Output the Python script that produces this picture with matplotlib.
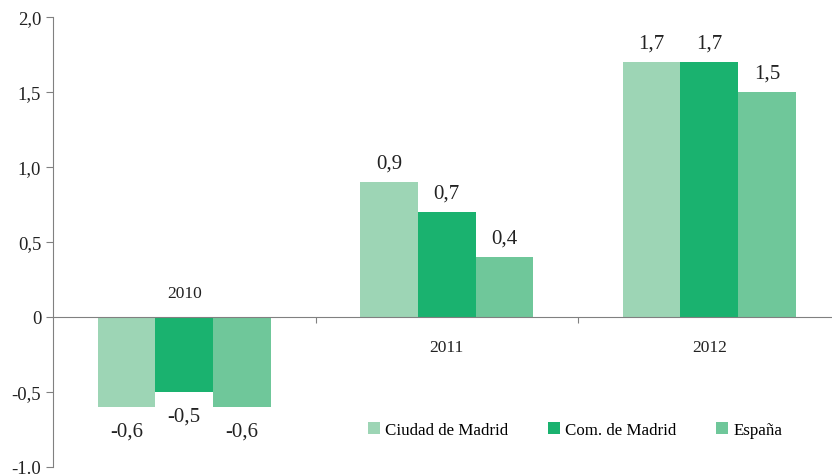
import matplotlib
matplotlib.use("Agg")
from matplotlib import pyplot as plt
import numpy as np

years = ["2010", "2011", "2012"]
series = ["Ciudad de Madrid", "Com. de Madrid", "España"]
ciudad = [-0.6, 0.9, 1.7]
comunidad = [-0.5, 0.7, 1.7]
espana = [-0.6, 0.4, 1.5]
colors = ["#9dd5b5", "#1ab26f", "#6fc79a"]

plt.rcParams['font.family'] = ['Liberation Serif', 'DejaVu Serif']

fig = plt.figure(figsize=(8.32, 4.77), dpi=100)
ax = fig.add_axes([53/832, 9/477, 778/832, 450/477])

x = np.arange(len(years))
w = 0.22
for i, (vals, name) in enumerate(zip([ciudad, comunidad, espana], series)):
    pos = x + (i - 1) * w
    ax.bar(pos, vals, width=w, color=colors[i], label=name)
    for px, v in zip(pos, vals):
        txt = ("%.1f" % v).replace(".", ",")
        off = 14 if v > 0 else -17
        ax.annotate(txt, (px, v), xytext=(0, off), textcoords="offset points",
                    ha="center", va="center", fontsize=15, color="#222222")

ax.set_xlim(-0.5, -0.5 + 778/262.5)
ax.set_ylim(-1.0, 2.0)
ax.set_yticks([-1.0, -0.5, 0, 0.5, 1.0, 1.5, 2.0])
ax.set_yticklabels(["-1.0", "-0,5", "0", "0,5", "1,0", "1,5", "2,0"], fontsize=13.5, color="#222222")

# category labels next to the zero line
for xi, yr, v in zip(x, years, ciudad):
    ypos = 0.16 if v < 0 else -0.2
    ax.text(xi, ypos, yr, ha="center", va="center", fontsize=12.5, color="#222222")

for s in ["top", "right"]:
    ax.spines[s].set_visible(False)
ax.spines["left"].set_color("#808080")
ax.spines["bottom"].set_position(("data", 0))
ax.spines["bottom"].set_color("#808080")
ax.set_xticks([0.5, 1.5])
ax.set_xticklabels([])
ax.tick_params(axis="x", direction="out", length=4, color="#808080")
ax.tick_params(axis="y", direction="out", length=5, color="#808080")

ax.legend(loc="center", bbox_to_anchor=(575/832, 1 - 431/477), bbox_transform=fig.transFigure,
          ncol=3, frameon=False, fontsize=12.2, handlelength=0.75, handleheight=0.75,
          handletextpad=0.3, columnspacing=2.3)

fig.savefig("out.png", dpi=100)
